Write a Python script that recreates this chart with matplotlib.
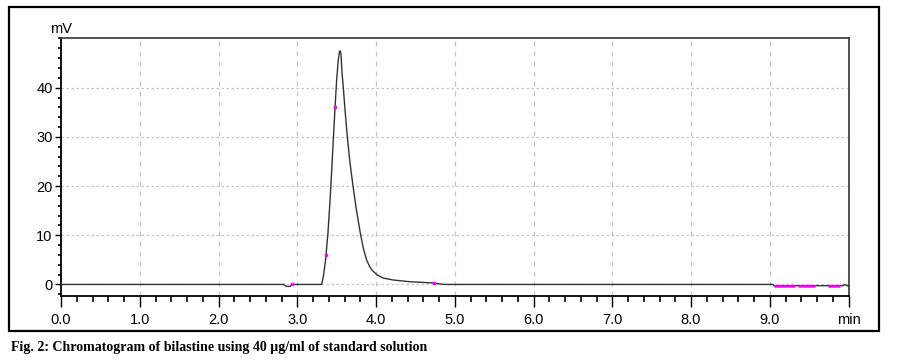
import numpy as np
import matplotlib
matplotlib.use("Agg")
import matplotlib.pyplot as plt
from matplotlib.patches import Rectangle
from matplotlib.ticker import MultipleLocator

# chromatogram trace (min, mV)
time_min = [0.0, 2.83, 2.86, 2.91, 2.93, 3.31, 3.33, 3.36, 3.39, 3.42, 3.45,
            3.48, 3.50, 3.52, 3.535, 3.545, 3.555, 3.568, 3.585, 3.61, 3.636,
            3.66, 3.685, 3.71, 3.75, 3.80, 3.84, 3.88, 3.92, 3.95, 4.01, 4.09,
            4.22, 4.43, 4.73, 4.83, 4.90, 9.04, 9.05, 9.93, 9.95, 9.99, 10.0]
signal_mv = [0.0, 0.0, -0.4, -0.4, 0.0, 0.0, 1.5, 5.0, 10.5, 18.0, 27.0,
             36.0, 41.5, 45.5, 47.2, 47.5, 47.0, 43.2, 40.0, 34.8, 30.0,
             26.2, 22.8, 19.8, 15.3, 10.5, 7.3, 5.0, 3.6, 2.9, 2.0, 1.3,
             0.9, 0.55, 0.3, 0.05, 0.0, 0.0, -0.25, -0.25, 0.0, -0.3, -0.3]

# integration baseline pieces (magenta) and event marks
base_start = [9.05, 9.36, 9.74]
base_end = [9.32, 9.57, 9.89]
base_level = -0.25
event_times = [2.93, 3.365, 3.48, 4.74]

x_ticks = [0, 1, 2, 3, 4, 5, 6, 7, 8, 9, 10]
x_labels = ["0.0", "1.0", "2.0", "3.0", "4.0", "5.0", "6.0", "7.0", "8.0", "9.0", "min"]
y_ticks = [0, 10, 20, 30, 40]

tick_font = ["Liberation Sans", "DejaVu Sans"]

fig = plt.figure(figsize=(8.97, 3.61), dpi=100)
W, H = 897, 361

# outer frame around the chromatogram
fig.patches.append(Rectangle((9 / W, 1 - 331 / H), 870 / W, 324 / H,
                             transform=fig.transFigure, fill=False,
                             edgecolor="black", linewidth=1.6))

ax = fig.add_axes([61 / W, 1 - 296 / H, 787.5 / W, 258 / H])
ax.set_xlim(0, 10)
ax.set_ylim(-2.35, 50.1)

# grid
for x in x_ticks[1:-1]:
    ax.axvline(x, color="#c4c4c4", lw=0.9, ls=(0, (4, 4)), zorder=0)
for y in y_ticks:
    ax.axhline(y, color="#c4c4c4", lw=0.9, ls=(0, (2, 2)), zorder=0)

ax.plot(time_min, signal_mv, color="#333333", lw=1.0, zorder=3)
for s, e in zip(base_start, base_end):
    ax.plot([s, e], [base_level, base_level], color="#ff00ff", lw=1.8,
            solid_capstyle="butt", zorder=4)
ax.plot(event_times, np.interp(event_times, time_min, signal_mv), ls="none",
        marker="s", ms=1.6, color="#ff00ff", zorder=5)

ax.set_xticks(x_ticks)
ax.set_xticklabels(x_labels)
ax.set_yticks(y_ticks)
ax.xaxis.set_minor_locator(MultipleLocator(0.2))
ax.yaxis.set_minor_locator(MultipleLocator(2))
ax.tick_params(axis="x", which="major", direction="out", length=8, width=1,
               pad=4, labelsize=10.5, colors="black")
ax.tick_params(axis="x", which="minor", direction="out", length=4, width=1.2)
ax.tick_params(axis="y", which="major", direction="out", length=4.5, width=1,
               pad=1.5, labelsize=10.5)
ax.tick_params(axis="y", which="minor", direction="out", length=2.5, width=1.2)
for lab in ax.get_xticklabels() + ax.get_yticklabels():
    lab.set_family(tick_font)

for side in ["left", "bottom"]:
    ax.spines[side].set_color("black")
    ax.spines[side].set_linewidth(1.3)
for side in ["top", "right"]:
    ax.spines[side].set_color("#444444")
    ax.spines[side].set_linewidth(1.3)

ax.text(0, 1.006, "mV", transform=ax.transAxes, ha="center", va="bottom",
        fontsize=10.5, family=tick_font)

fig.text(11 / W, 1 - 347 / H, "Fig. 2: Chromatogram of bilastine using 40 \u00b5g/ml of standard solution",
         ha="left", va="center", fontsize=10, fontweight="bold",
         family=["Liberation Serif", "DejaVu Serif"])

fig.savefig("out.png", dpi=100)
